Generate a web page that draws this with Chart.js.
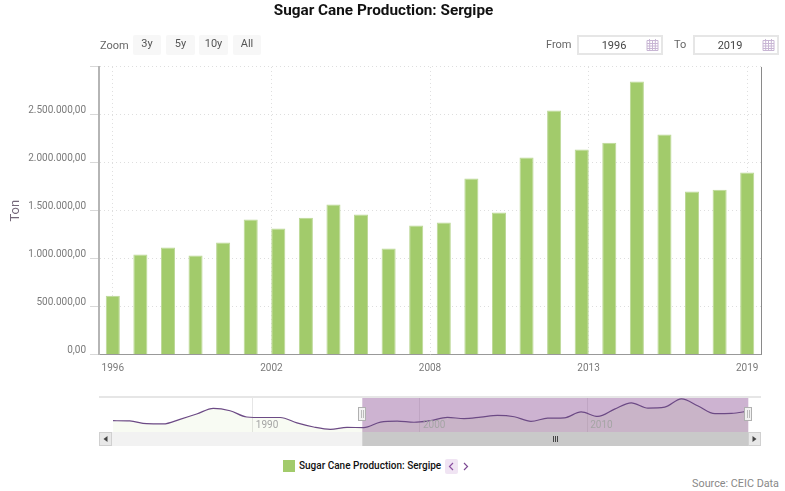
<!DOCTYPE html>
<html>
<head>
<meta charset="utf-8">
<title>Sugar Cane Production: Sergipe</title>
<script src="https://cdn.jsdelivr.net/npm/chart.js@4"></script>
<style>
  html, body { margin: 0; padding: 0; background: #fff; }
  body { width: 785px; height: 491px; position: relative; overflow: hidden; font-family: Roboto, sans-serif; }
  canvas { position: absolute; left: 0; }
  #mainChart { top: 0; }
  #navChart { top: 390px; }
  .abs { position: absolute; white-space: nowrap; }
  .lbl { font-size: 11px; color: #666; line-height: 20px; top: 35px; }
  .btn { top: 35px; height: 20px; line-height: 18px; background: #f7f7f7; color: #555; font-size: 11px; text-align: center; border-radius: 2px; }
  .inp { top: 35px; width: 82px; height: 16px; border: 2px solid #e6e6e6; color: #444; font-size: 11px; line-height: 17px; }
  .inp span { position: absolute; left: 0; width: 70px; text-align: center; }
  .inp svg { position: absolute; right: 2px; top: 1px; }
  #legendBox { left: 283px; top: 460px; width: 12px; height: 12px; background: #a2cb6b; }
  #legendText { left: 299px; top: 459px; font-size: 10px; line-height: 14px; font-weight: 500; color: #111; }
  #pagePrev { left: 445px; top: 459px; width: 13px; height: 15px; background: #f0e4f3; border-radius: 2px; }
  #pageNext { left: 459px; top: 459px; width: 13px; height: 15px; }
  #source { right: 6px; top: 477px; font-size: 10.8px; line-height: 14px; color: #888; }
</style>
</head>
<body>
<canvas id="mainChart" width="785" height="380"></canvas>
<canvas id="navChart" width="785" height="60"></canvas>

<div class="abs lbl" style="left:100px;top:36px">Zoom</div>
<div class="abs btn" style="left:133px;width:28px">3y</div>
<div class="abs btn" style="left:166px;width:29px">5y</div>
<div class="abs btn" style="left:199px;width:29px">10y</div>
<div class="abs btn" style="left:233px;width:28px">All</div>

<div class="abs lbl" style="left:546px">From</div>
<div class="abs inp" style="left:577px"><span>1996</span><svg width="13" height="13" viewBox="0 0 13 13"><path d="M1 2.5h11v10H1zM1 5.5h11M1 8h11M1 10.5h11M3.7 3v9.5M6.5 3v9.5M9.3 3v9.5M3.5 1v2.5M9.5 1v2.5" fill="none" stroke="#c8b6d4" stroke-width="1"/></svg></div>
<div class="abs lbl" style="left:674px">To</div>
<div class="abs inp" style="left:693px"><span>2019</span><svg width="13" height="13" viewBox="0 0 13 13"><path d="M1 2.5h11v10H1zM1 5.5h11M1 8h11M1 10.5h11M3.7 3v9.5M6.5 3v9.5M9.3 3v9.5M3.5 1v2.5M9.5 1v2.5" fill="none" stroke="#c8b6d4" stroke-width="1"/></svg></div>

<div class="abs" id="legendBox"></div>
<div class="abs" id="legendText">Sugar Cane Production: Sergipe</div>
<div class="abs" id="pagePrev"><svg width="13" height="15"><path d="M8 4l-3.5 3.5L8 11" fill="none" stroke="#8a4fa0" stroke-width="1.2"/></svg></div>
<div class="abs" id="pageNext"><svg width="13" height="15"><path d="M5 4l3.5 3.5L5 11" fill="none" stroke="#7d4a94" stroke-width="1.2"/></svg></div>
<div class="abs" id="source">Source: CEIC Data</div>

<script>
const chartTitle = 'Sugar Cane Production: Sergipe';

const years = [1996, 1997, 1998, 1999, 2000, 2001, 2002, 2003, 2004, 2005, 2006, 2007,
               2008, 2009, 2010, 2011, 2012, 2013, 2014, 2015, 2016, 2017, 2018, 2019];
const production = [614000, 1043000, 1116000, 1032000, 1168000, 1408000, 1315000, 1428000,
                    1565000, 1461000, 1106000, 1346000, 1377000, 1836000, 1482000, 2056000,
                    2546000, 2140000, 2210000, 2848000, 2295000, 1700000, 1720000, 1898000];

// older part of the series, only visible in the navigator
const olderYears = [1981, 1982, 1983, 1984, 1985, 1986, 1987, 1988, 1989, 1990, 1991, 1992, 1993, 1994, 1995];
const olderProduction = [1150000, 1130000, 920000, 900000, 1260000, 1670000, 2120000, 1930000,
                         1440000, 1400000, 1400000, 980000, 660000, 480000, 630000];

const xTicks = [1996, 2001.75, 2007.5, 2013.25, 2019];
const navTicks = [1990, 2000, 2010];

const green = '#a2cb6b';
const tickGrey = '#7a7a7a';
const yearShift = 0.64; // navigator points sit late in their year
const selectionStart = 1996.55;
const selectionEnd = 2019.64;

const formatTon = v => v.toLocaleString('pt-BR', { minimumFractionDigits: 2, maximumFractionDigits: 2 });

// dark line on the right of the plot
const rightBorder = {
    id: 'rightBorder',
    afterDraw(chart) {
        const { ctx, chartArea: a } = chart;
        ctx.save();
        ctx.strokeStyle = '#8a8a8a';
        ctx.lineWidth = 1;
        ctx.beginPath();
        ctx.moveTo(a.right + 0.5, a.top);
        ctx.lineTo(a.right + 0.5, a.bottom);
        ctx.stroke();
        ctx.restore();
    }
};

new Chart(document.getElementById('mainChart'), {
    type: 'bar',
    data: {
        datasets: [{
            data: years.map((y, i) => ({ x: y, y: production[i] })),
            backgroundColor: green,
            borderColor: '#bcd896',
            borderWidth: 1,
            barPercentage: 0.51,
            categoryPercentage: 1
        }]
    },
    plugins: [rightBorder],
    options: {
        responsive: false,
        animation: false,
        layout: { padding: { left: 6, right: 24, top: 0, bottom: 0 } },
        plugins: {
            legend: { display: false },
            tooltip: { enabled: false },
            title: {
                display: true,
                text: chartTitle,
                color: '#111',
                font: { family: 'Roboto', size: 15.3, weight: 'bold' },
                padding: { top: 2, bottom: 46.6 }
            }
        },
        scales: {
            x: {
                type: 'linear',
                min: 1995.5,
                max: 2019.5,
                offset: false,
                afterBuildTicks: axis => { axis.ticks = xTicks.map(value => ({ value })); },
                afterFit: axis => { axis.height = 25.5; },
                grid: { offset: false, color: '#dedede', drawTicks: false },
                border: { color: '#999', width: 1, dash: [1, 3] },
                ticks: {
                    autoSkip: false,
                    maxRotation: 0,
                    padding: 8,
                    color: tickGrey,
                    font: { family: 'Roboto', size: 10 },
                    callback: v => String(Math.round(v))
                }
            },
            y: {
                min: 0,
                max: 3000000,
                afterFit: axis => { axis.width = 93; },
                grid: { color: '#dedede', tickColor: '#d8d8d8', tickBorderDash: [], tickLength: 9 },
                border: { color: '#b5b5b5', width: 2, dash: [1, 3] },
                title: {
                    display: true,
                    text: 'Ton',
                    color: '#75687a',
                    font: { family: 'Roboto', size: 13 },
                    padding: { top: 2, bottom: 0 }
                },
                ticks: {
                    stepSize: 500000,
                    padding: 4,
                    labelOffset: -4,
                    color: tickGrey,
                    font: { family: 'Roboto', size: 10 },
                    callback: v => (v >= 3000000 ? '' : formatTon(v))
                }
            }
        }
    }
});

// selection band, handles and scrollbar of the navigator
const navigatorParts = {
    id: 'navigatorParts',
    beforeDatasetsDraw(chart) {
        const { ctx, chartArea: a, scales: { x } } = chart;
        const x0 = x.getPixelForValue(selectionStart);
        const x1 = x.getPixelForValue(selectionEnd);
        ctx.save();
        ctx.fillStyle = 'rgba(144, 86, 153, 0.45)';
        ctx.fillRect(x0, a.top, x1 - x0, a.bottom - a.top);
        ctx.restore();
    },
    afterDraw(chart) {
        const { ctx, chartArea: a, scales: { x } } = chart;
        const x0 = x.getPixelForValue(selectionStart);
        const x1 = x.getPixelForValue(selectionEnd);
        ctx.save();

        ctx.fillStyle = '#e6e6e6';
        ctx.fillRect(a.left, a.top - 1, a.right - a.left, 2);

        ctx.font = '10px Roboto';
        ctx.fillStyle = '#a5a5a5';
        ctx.textBaseline = 'middle';
        navTicks.forEach(t => ctx.fillText(String(t), x.getPixelForValue(t) + 3, a.bottom - 7));

        // scrollbar
        const barTop = a.bottom, barH = 14;
        ctx.fillStyle = '#f2f2f2';
        ctx.fillRect(a.left, barTop, a.right - a.left, barH);
        ctx.fillStyle = '#c9c9c9';
        ctx.fillRect(x0, barTop, x1 - x0, barH);

        [a.left, a.right - 13].forEach((bx, i) => {
            ctx.fillStyle = '#e8e8e8';
            ctx.fillRect(bx, barTop, 13, barH);
            ctx.strokeStyle = '#d0d0d0';
            ctx.strokeRect(bx + 0.5, barTop + 0.5, 12, barH - 1);
            ctx.fillStyle = '#444';
            ctx.beginPath();
            const cx = bx + 6.5, cy = barTop + 7, d = i === 0 ? -2 : 2;
            ctx.moveTo(cx + d, cy);
            ctx.lineTo(cx - d, cy - 3);
            ctx.lineTo(cx - d, cy + 3);
            ctx.fill();
        });

        ctx.strokeStyle = '#444';
        ctx.lineWidth = 1;
        const mid = Math.round((x0 + x1) / 2);
        [-2, 0, 2].forEach(o => {
            ctx.beginPath();
            ctx.moveTo(mid + o + 0.5, barTop + 4);
            ctx.lineTo(mid + o + 0.5, barTop + 10);
            ctx.stroke();
        });

        // handles
        [x0, x1].forEach(hx => {
            const left = Math.round(hx) - 4;
            ctx.fillStyle = '#f2f2f2';
            ctx.strokeStyle = '#b0b0b0';
            ctx.fillRect(left, a.top + 10, 8, 14);
            ctx.strokeRect(left + 0.5, a.top + 10.5, 7, 13);
            ctx.strokeStyle = '#bbb';
            [3, 5].forEach(o => {
                ctx.beginPath();
                ctx.moveTo(left + o + 0.5, a.top + 13);
                ctx.lineTo(left + o + 0.5, a.top + 21);
                ctx.stroke();
            });
        });
        ctx.restore();
    }
};

const navYears = olderYears.concat(years);
const navValues = olderProduction.concat(production);

new Chart(document.getElementById('navChart'), {
    type: 'line',
    data: {
        datasets: [{
            data: navYears.map((y, i) => ({ x: y + yearShift, y: navValues[i] })),
            borderColor: '#6c4a85',
            borderWidth: 1.2,
            pointRadius: 0,
            cubicInterpolationMode: 'monotone',
            fill: 'start',
            backgroundColor: 'rgba(162, 203, 107, 0.08)'
        }]
    },
    plugins: [navigatorParts],
    options: {
        responsive: false,
        animation: false,
        layout: { padding: { left: 99, right: 24, top: 7, bottom: 18 } },
        plugins: { legend: { display: false }, tooltip: { enabled: false } },
        scales: {
            x: {
                type: 'linear',
                min: 1980.8,
                max: 2020.4,
                afterBuildTicks: axis => { axis.ticks = navTicks.map(value => ({ value })); },
                afterFit: axis => { axis.height = 0; },
                grid: { color: '#e6e6e6', drawTicks: false },
                border: { display: false },
                ticks: { display: false }
            },
            y: { display: false, min: 270000, max: 3000000 }
        }
    }
});
</script>
</body>
</html>
